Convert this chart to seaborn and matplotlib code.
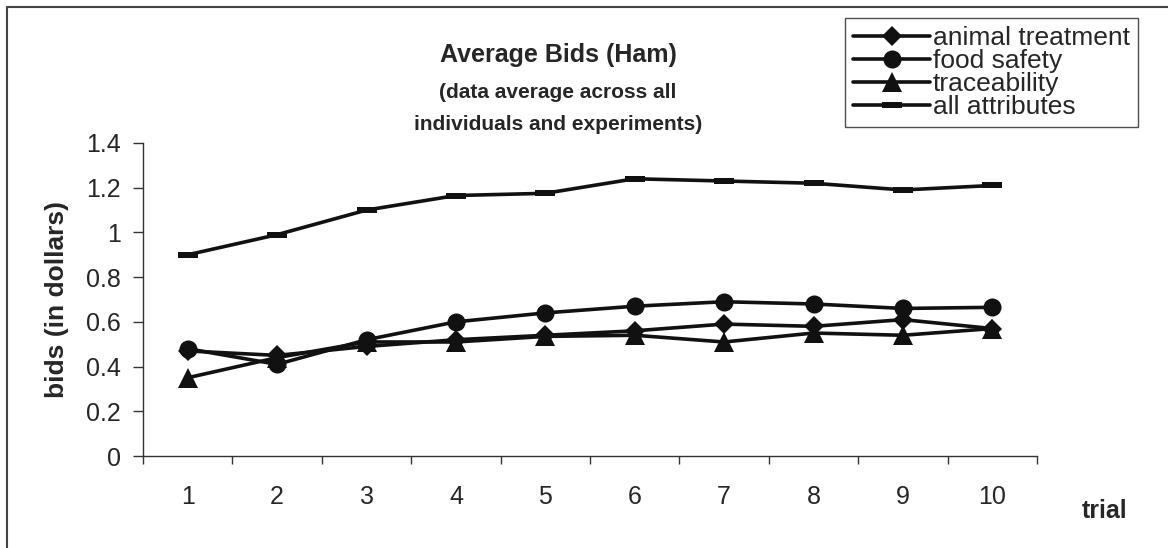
"""
Average bids (Ham) by trial - line chart with marker per attribute
"""

import numpy as np
import pandas as pd
import matplotlib
matplotlib.use("Agg")
import matplotlib.pyplot as plt
from matplotlib.lines import Line2D
import seaborn as sns

# data
trials = [1, 2, 3, 4, 5, 6, 7, 8, 9, 10]
animal_treatment = [0.47, 0.45, 0.49, 0.52, 0.54, 0.56, 0.59, 0.58, 0.61, 0.57]
food_safety = [0.48, 0.41, 0.52, 0.60, 0.64, 0.67, 0.69, 0.68, 0.66, 0.665]
traceability = [0.35, 0.44, 0.51, 0.51, 0.535, 0.54, 0.51, 0.55, 0.54, 0.57]
all_attributes = [0.90, 0.99, 1.10, 1.165, 1.175, 1.24, 1.23, 1.22, 1.19, 1.21]
series_names = ["animal treatment", "food safety", "traceability", "all attributes"]
y_ticks = [0, 0.2, 0.4, 0.6, 0.8, 1.0, 1.2, 1.4]
y_tick_labels = ["0", "0.2", "0.4", "0.6", "0.8", "1", "1.2", "1.4"]

sns.set_theme(style="white")
plt.rcParams['font.family'] = ['Liberation Sans', 'DejaVu Sans']

W, H = 1168, 548
fig = plt.figure(figsize=(W / 100, H / 100), dpi=100)
ax = fig.add_axes([143 / W, 92 / H, (1037 - 143) / W, (456 - 143) / H])

df = pd.DataFrame({
    "trial": trials * 4,
    "bid": animal_treatment + food_safety + traceability + all_attributes,
    "series": np.repeat(series_names, len(trials)),
})

# Excel style "dash" marker: short wide bar
dash = [(-1.6, -0.5), (1.6, -0.5), (1.6, 0.5), (-1.6, 0.5), (-1.6, -0.5)]
styles = {
    "animal treatment": dict(marker="D", ms=10),
    "food safety": dict(marker="o", ms=13),
    "traceability": dict(marker="^", ms=14),
    "all attributes": dict(marker=dash, ms=14),
}

for name in series_names:
    sub = df[df["series"] == name]
    sns.lineplot(data=sub, x="trial", y="bid", ax=ax, color="#111111",
                 linewidth=2.6, markeredgewidth=0, label=name, legend=False,
                 **styles[name])

ax.set_xlim(0.5, 10.5)
ax.set_ylim(0, 1.4)
ax.set_xticks(trials)
ax.set_xticklabels([str(t) for t in trials], fontsize=18)
ax.set_xticks(np.arange(0.5, 11, 1), minor=True)
ax.tick_params(axis="x", which="major", length=0, pad=21)
ax.tick_params(axis="x", which="minor", length=6, width=1, color="#333333", bottom=True)
ax.set_yticks(y_ticks)
ax.set_yticklabels(y_tick_labels, fontsize=18)
ax.tick_params(axis="y", length=7, width=1, color="#333333", pad=9, left=True)
ax.set_xlabel("")
ax.set_ylabel("bids (in dollars)", fontsize=19, fontweight="bold", labelpad=12)

for side in ["top", "right"]:
    ax.spines[side].set_visible(False)
for side in ["left", "bottom"]:
    ax.spines[side].set_color("#333333")
    ax.spines[side].set_linewidth(1)

# titles
fig.text(558 / W, 1 - 55 / H, "Average Bids (Ham)", ha="center", va="center",
         fontsize=18, fontweight="bold")
fig.text(558 / W, 1 - 93 / H, "(data average across all", ha="center", va="center",
         fontsize=15, fontweight="bold")
fig.text(558 / W, 1 - 124 / H, "individuals and experiments)", ha="center", va="center",
         fontsize=15, fontweight="bold")
fig.text(1105 / W, 1 - 511 / H, "trial", ha="center", va="center",
         fontsize=18, fontweight="bold")

# legend
handles = [Line2D([0], [0], color="#111111", linewidth=2.6, markeredgewidth=0,
                  **styles[n]) for n in series_names]
leg = fig.legend(handles, series_names, loc="upper right",
                 bbox_to_anchor=(1138 / W, 1 - 18 / H), fontsize=19,
                 frameon=True, fancybox=False, edgecolor="#222222",
                 borderpad=0.3, labelspacing=-0.04, handlelength=2.9,
                 handletextpad=0.12, borderaxespad=0)
leg.get_frame().set_linewidth(1)

# outer chart border (left and top edges visible in the reference)
fig.add_artist(Line2D([7 / W, 7 / W], [0, 1 - 7 / H], transform=fig.transFigure,
                      color="#444444", linewidth=1.5))
fig.add_artist(Line2D([7 / W, 1], [1 - 7 / H, 1 - 7 / H], transform=fig.transFigure,
                      color="#444444", linewidth=1.5))

fig.savefig("out.png", dpi=100)
